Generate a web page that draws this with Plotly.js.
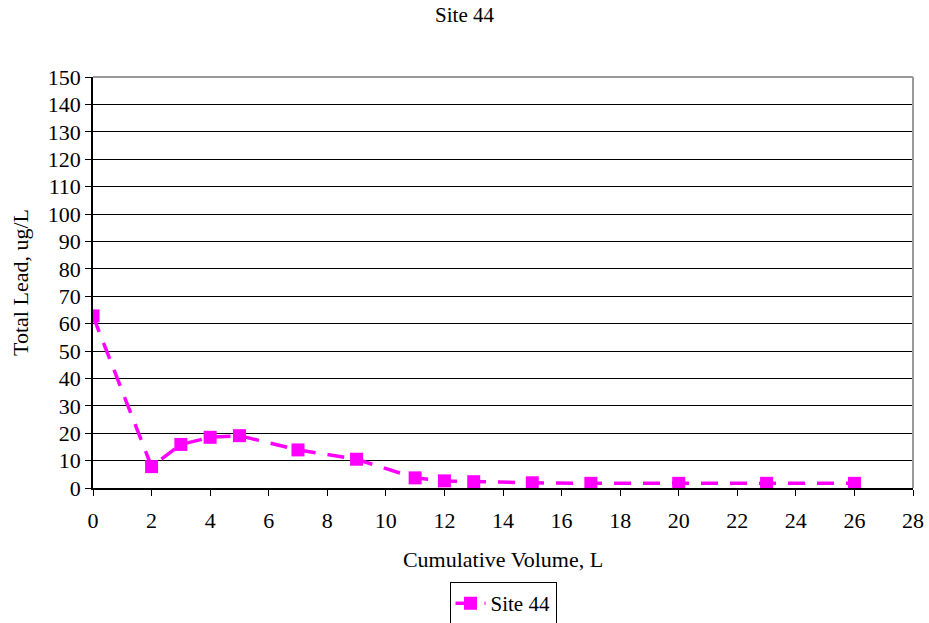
<!DOCTYPE html>
<html>
<head>
<meta charset="utf-8">
<script src="https://cdn.plot.ly/plotly-3.0.1.min.js"></script>
<style>body{margin:0;background:#fff}#chart{width:929px;height:623px}</style>
</head>
<body>
<div id="chart"></div>
<script>
const seriesName = "Site 44";
const volume = [0, 2, 3, 4, 5, 7, 9, 11, 12, 13, 15, 17, 20, 23, 26];
const lead = [62.8, 7.8, 15.9, 18.5, 19.1, 13.9, 10.5, 3.7, 2.6, 2.3, 1.9, 1.7, 1.7, 1.7, 1.7];
const xTicks = [0,2,4,6,8,10,12,14,16,18,20,22,24,26,28];
const yTicks = [0,10,20,30,40,50,60,70,80,90,100,110,120,130,140,150];

const font = "Liberation Serif";
const trace = {
  x: volume, y: lead, name: seriesName, type: "scatter", mode: "lines+markers",
  line: {color: "#FF00FF", width: 3.5, dash: "17px,12px"},
  marker: {symbol: "square", size: 13, color: "#FF00FF"}
};
const layout = {
  width: 929, height: 623,
  margin: {l: 93, r: 16, t: 77, b: 135, autoexpand: false},
  paper_bgcolor: "#fff", plot_bgcolor: "#fff",
  font: {family: font, size: 22, color: "#000"},
  title: {text: "Site 44", font: {family: font, size: 21, color: "#000"}, x: 0.5, xanchor: "center", y: 0.976, yanchor: "middle"},
  xaxis: {
    range: [0, 28], tickvals: xTicks, ticktext: xTicks.map(String),
    showgrid: false, zeroline: false, showline: true, linecolor: "#000", linewidth: 1.5,
    ticks: "outside", ticklen: 6, tickcolor: "#000", tickfont: {family: font, size: 22},
    ticklabelstandoff: 6,
    title: {text: "Cumulative Volume, L", font: {family: font, size: 22}, standoff: 19},
    automargin: false
  },
  yaxis: {
    range: [0, 150], tickvals: yTicks, ticktext: yTicks.map(String),
    showgrid: true, gridcolor: "#000", gridwidth: 1, zeroline: false,
    showline: true, linecolor: "#000", linewidth: 1.5,
    ticks: "outside", ticklen: 6, tickcolor: "#000", tickfont: {family: font, size: 22},
    title: {text: "Total Lead, ug/L", font: {family: font, size: 22}, standoff: 13},
    automargin: false
  },
  showlegend: true,
  legend: {
    orientation: "h", x: 0.5, xanchor: "center", y: -0.229, yanchor: "top",
    bordercolor: "#000", borderwidth: 1, bgcolor: "#fff",
    font: {family: font, size: 21}
  },
  shapes: [
    {type: "line", xref: "paper", yref: "paper", x0: 0, x1: 1, y0: 1, y1: 1, line: {color: "#999", width: 2}},
    {type: "line", xref: "paper", yref: "paper", x0: 1, x1: 1, y0: 0, y1: 1, line: {color: "#999", width: 2}}
  ]
};
Plotly.newPlot("chart", [trace], layout, {displayModeBar: false});
</script>
</body>
</html>
